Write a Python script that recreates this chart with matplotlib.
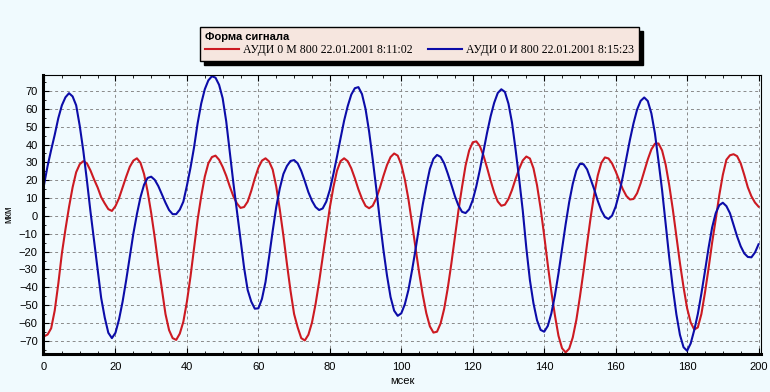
import numpy as np
import matplotlib
matplotlib.use("Agg")
import matplotlib.pyplot as plt
from matplotlib.ticker import MultipleLocator

# signal samples, every 1 msec
msek = np.arange(0, 201)

audi_m = [
    -67.5, -66.5, -63, -53, -38, -21, -7.5, 5, 16, 24.5,
    29, 30.7, 29.5, 25.5, 20.5, 16, 10.5, 7, 3.8, 2.8,
    5.5, 10, 16, 22, 27.5, 31, 32.3, 29.8, 23.5, 13.7,
    1.6, -12.2, -27.4, -41.3, -55, -64, -68.5, -69.5, -66, -59.3,
    -48, -34, -18, -2, 11, 22, 29.5, 33, 33.8, 31.5,
    27.5, 22.5, 16.5, 11, 7, 4.5, 5, 8, 14, 21,
    27, 31, 32.3, 30.5, 26, 16.5, 3.5, -11, -27, -42,
    -55, -62.5, -68.5, -69.8, -66.6, -59.8, -49.5, -37, -23.1, -8.8,
    4.7, 16.1, 25.3, 30.7, 32.3, 30.7, 26.7, 21.1, 14.9, 9.6,
    5.6, 4.3, 5.7, 9.8, 15.7, 22.4, 28.5, 33, 35, 33.8,
    28.8, 20.4, 9.4, -4.1, -18.1, -31.9, -44.1, -54.5, -61.9, -65.4,
    -64.9, -60.3, -52.1, -40.6, -26.9, -11.9, 3, 16.2, 28.3, 36.7,
    41.3, 41.8, 39.1, 33.9, 27.1, 19.8, 13.1, 8.1, 5.7, 6.3,
    9.5, 14.6, 20.8, 26.4, 31.1, 33.3, 32.2, 26.7, 17.1, 4.2,
    -11, -27.3, -42.4, -55.7, -67.2, -74.2, -76.5, -74.4, -68.1, -58.3,
    -45.3, -31.1, -15.7, -0.9, 12.2, 22.7, 29.8, 32.8, 32.2, 29.4,
    25, 19.9, 15, 11.2, 9.2, 9.5, 12.7, 18.3, 25, 31.7,
    37.3, 40.5, 40.6, 36.7, 28.7, 17.2, 3.7, -11.5, -26.5, -39.9,
    -51.7, -59.7, -63.7, -62.5, -55, -43, -29.5, -15, -2, 11.5,
    23, 31.5, 34, 34.6, 33.5, 29.5, 23, 16, 11, 7.5,
    5.2,
]

audi_i = [
    17.4, 28, 37, 45.5, 54.8, 62, 66.5, 68.8, 67, 62,
    50.5, 36.5, 20, 2.5, -13.5, -29.5, -46, -57, -65.5, -68.5,
    -65.5, -58, -48, -36, -23, -10, 1, 10.5, 17.5, 21.3,
    22, 20.2, 16.7, 12, 7.4, 3.3, 1, 1, 3.5, 8,
    17, 27, 38.5, 52, 63, 71, 76, 78.3, 77.5, 73.5,
    66, 53, 35.5, 18.5, 2.6, -13.5, -29, -41.5, -48, -52,
    -51.8, -46.5, -37, -23, -8.5, 5, 15.5, 23.5, 28, 30.8,
    31.3, 29.5, 25.2, 19.5, 13.3, 8.5, 5, 3.3, 4.2, 8,
    14.6, 23.5, 33.2, 43.5, 53.4, 61.5, 68, 71.6, 72.2, 68.3,
    59.9, 47.2, 31.7, 15.3, -2.5, -19, -33.4, -45.5, -53.1, -56,
    -54.6, -49.5, -41.5, -30.6, -18.7, -5.9, 6.3, 16.9, 26.3, 32,
    34.2, 33.1, 29.5, 23.8, 17.6, 11.1, 5.8, 2.3, 1.6, 3.7,
    8.9, 16.6, 25.9, 36.3, 46.5, 55.8, 63.4, 68.9, 71, 69.5,
    62.9, 52.2, 37.1, 20.6, 3, -18, -36, -49, -58.5, -63.9,
    -64.9, -61.7, -54.7, -44.6, -32.2, -18.6, -4.7, 7.8, 18, 25.5,
    29.2, 29, 26.1, 20.6, 14.9, 8.4, 3, -0.6, -1.7, 0.2,
    5.2, 12.7, 22, 32.4, 42.7, 51.9, 59.6, 64.5, 66.4, 64.4,
    57.5, 46.2, 30.6, 14.4, -4.6, -23.3, -40.4, -55.2, -66.7, -73.6,
    -75.6, -71.5, -64, -55, -43.5, -31, -18, -6.5, 1.5, 6,
    7.4, 5.5, 1.5, -5, -11.5, -17, -21, -23, -23.2, -20.5,
    -15.9,
]

label_m = "АУДИ 0 М 800 22.01.2001 8:11:02"
label_i = "АУДИ 0 И 800 22.01.2001 8:15:23"
legend_title = "Форма сигнала"

bg = "#F0FAFE"
plt.rcParams['font.family'] = ['Liberation Sans', 'DejaVu Sans']

fig = plt.figure(figsize=(7.7, 3.92), dpi=100, facecolor=bg)
ax = fig.add_axes([43.3 / 770, 38 / 392, (760.7 - 43.3) / 770, (354 - 75) / 392])
ax.set_facecolor(bg)

ax.plot(msek, audi_m, color="#CC1A22", lw=1.5, label=label_m)
ax.plot(msek, audi_i, color="#0C0CA8", lw=1.5, label=label_i)

ax.set_xlim(-0.2, 200.6)
ax.set_ylim(-77.4, 79)
ax.xaxis.set_major_locator(MultipleLocator(20))
ax.xaxis.set_minor_locator(MultipleLocator(5))
ax.yaxis.set_major_locator(MultipleLocator(10))
ax.yaxis.set_minor_locator(MultipleLocator(5))
ax.grid(True, which="major", color="#8a8a8a", ls=(0, (3, 3)), lw=0.7)

ax.tick_params(which="both", direction="in", top=True, right=False,
               labelsize=8, colors="black")
ax.tick_params(which="major", length=4)
ax.tick_params(which="minor", length=2.5)
ax.tick_params(axis="x", pad=6)
ax.tick_params(axis="y", pad=4)

for side in ["left", "bottom"]:
    ax.spines[side].set_linewidth(2.2)
for side in ["top", "right"]:
    ax.spines[side].set_linewidth(0.8)

ax.set_xlabel("мсек", fontsize=8, labelpad=3)
ax.set_ylabel("мкм", fontsize=7, labelpad=4)

leg = fig.legend(loc="upper left", bbox_to_anchor=(200 / 770, 1 - 27 / 392),
                 borderaxespad=0, ncol=2, title=legend_title, alignment="left",
                 title_fontproperties={"weight": "bold", "size": 8},
                 prop={"family": "Liberation Serif", "size": 8.5},
                 frameon=True, fancybox=False, edgecolor="black",
                 facecolor="#F6E6DF", framealpha=1,
                 shadow={"color": "black", "alpha": 1, "ox": 3, "oy": -3},
                 handlelength=2.9, handletextpad=0.35, columnspacing=1.3,
                 borderpad=0.4, labelspacing=0.2)
leg.get_frame().set_linewidth(1.0)

fig.savefig("out.png", dpi=100, facecolor=bg)
